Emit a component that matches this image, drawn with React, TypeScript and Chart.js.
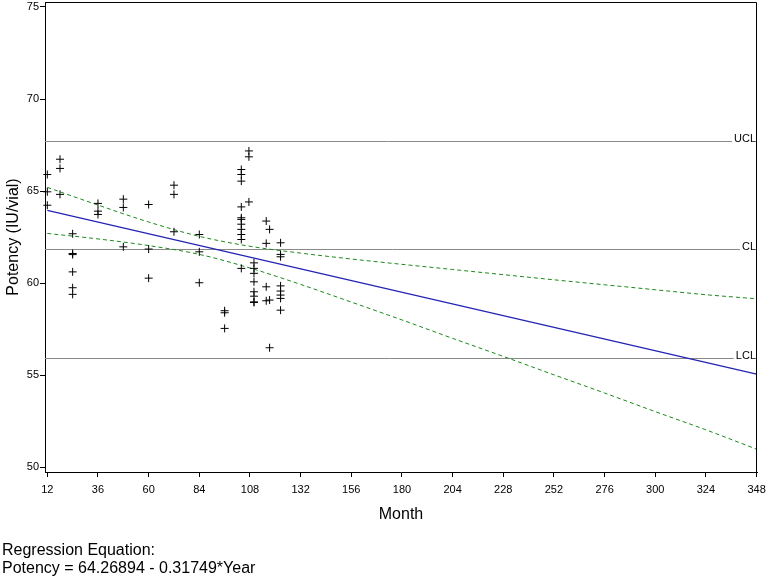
import React, { useEffect, useRef } from "react";
import { Chart, registerables } from "chart.js";

Chart.register(...registerables);

// ---- Data ----
const xTickValues = [12, 36, 60, 84, 108, 132, 156, 180, 204, 228, 252, 276, 300, 324, 348];
const yTickValues = [50, 55, 60, 65, 70, 75];

const scatterMonths = [
  12, 12, 12,
  18, 18, 18,
  24, 24, 24, 24, 24, 24,
  36, 36, 36,
  48, 48, 48,
  60, 60, 60,
  72, 72, 72,
  84, 84, 84,
  96, 96, 96,
  103.9, 103.9, 103.9, 103.9, 103.9, 103.9, 103.9, 103.9, 103.9, 103.9, 103.9,
  107.5, 107.5, 107.5,
  109.9, 109.9, 109.9, 109.9, 109.9, 109.9, 109.9, 109.9,
  115.7, 115.7, 115.7, 115.7,
  117.3, 117.3, 117.3,
  122.5, 122.5, 122.5, 122.5, 122.5, 122.5, 122.5, 122.5,
];
const scatterPotency = [
  65.9, 64.96, 64.23,
  66.73, 66.23, 64.82,
  62.68, 61.61, 61.55, 60.61, 59.75, 59.39,
  64.33, 63.91, 63.73,
  64.56, 64.11, 61.97,
  64.27, 61.85, 60.27,
  65.32, 64.82, 62.79,
  62.64, 61.7, 60.02,
  58.5, 58.39, 57.54,
  66.17, 65.9, 65.54, 64.14, 63.55, 63.46, 63.2, 62.92, 62.64, 62.37, 60.8,
  67.18, 66.86, 64.41,
  61.1, 60.8, 60.53, 60.07, 59.53, 59.29, 58.98, 58.95,
  63.37, 62.16, 59.8, 59.04,
  62.92, 59.08, 56.49,
  62.19, 61.56, 61.43, 59.85, 59.57, 59.35, 59.17, 58.53,
];

const regMonths = [12, 348];
const regPotency = [63.95, 55.06];

const bandMonths = [12, 36, 60, 84, 108, 132, 156, 180, 204, 228, 252, 276, 300, 324, 348];
const upperBand = [65.2, 64.24, 63.32, 62.54, 62.0, 61.63, 61.31, 61.02, 60.74, 60.46, 60.18, 59.91, 59.64, 59.37, 59.15];
const lowerBand = [62.7, 62.4, 62.04, 61.56, 60.82, 59.93, 58.97, 58.0, 57.0, 56.02, 55.02, 54.03, 53.02, 52.03, 50.98];

const refLabels = ["UCL", "CL", "LCL"];
const refValues = [67.73, 61.83, 55.91];

const xAxisTitle = "Month";
const yAxisTitle = "Potency (IU/vial)";
const footnoteLines = ["Regression Equation:", "Potency = 64.26894 - 0.31749*Year"];

const FONT = "'Liberation Sans', Arial, sans-serif";

const overlayPlugin = {
  id: "overlay",
  beforeDatasetsDraw(chart: any) {
    const ctx = chart.ctx;
    const area = chart.chartArea;
    const y = chart.scales.y;
    ctx.save();
    ctx.font = `11px ${FONT}`;
    ctx.textAlign = "right";
    ctx.textBaseline = "alphabetic";
    refValues.forEach((v, i) => {
      const py = Math.round(y.getPixelForValue(v)) + 0.5;
      const label = refLabels[i];
      const w = ctx.measureText(label).width;
      const textRight = area.right - 1;
      ctx.strokeStyle = "#8a8a8a";
      ctx.lineWidth = 1;
      ctx.beginPath();
      ctx.moveTo(area.left, py);
      ctx.lineTo(textRight - w - 2, py);
      ctx.stroke();
      ctx.fillStyle = "#000";
      ctx.fillText(label, textRight, py);
    });
    ctx.restore();
  },
  afterDraw(chart: any) {
    const ctx = chart.ctx;
    const area = chart.chartArea;
    ctx.save();
    // frame (top and right)
    ctx.strokeStyle = "#000";
    ctx.lineWidth = 1;
    ctx.beginPath();
    ctx.moveTo(Math.round(area.left) + 0.5, Math.round(area.top) + 0.5);
    ctx.lineTo(Math.round(area.right) - 0.5, Math.round(area.top) + 0.5);
    ctx.lineTo(Math.round(area.right) - 0.5, Math.round(area.bottom) + 0.5);
    ctx.stroke();

    ctx.fillStyle = "#000";
    ctx.font = `16px ${FONT}`;
    // x title
    ctx.textAlign = "center";
    ctx.textBaseline = "middle";
    ctx.fillText(xAxisTitle, (area.left + area.right) / 2, 515);
    // y title
    ctx.save();
    ctx.translate(14, 237);
    ctx.rotate(-Math.PI / 2);
    ctx.fillText(yAxisTitle, 0, 0);
    ctx.restore();
    // footnote
    ctx.textAlign = "left";
    ctx.textBaseline = "middle";
    footnoteLines.forEach((t, i) => {
      ctx.fillText(t, 2, 551 + i * 18);
    });
    ctx.restore();
  },
};

export default function App() {
  const canvasRef = useRef<HTMLCanvasElement | null>(null);

  useEffect(() => {
    const canvas = canvasRef.current;
    if (!canvas) return;

    const chart = new Chart(canvas, {
      type: "scatter",
      data: {
        datasets: [
          {
            type: "scatter",
            data: scatterMonths.map((m, i) => ({ x: m, y: scatterPotency[i] })),
            pointStyle: "cross",
            pointRadius: 4,
            pointBorderColor: "#000",
            pointBorderWidth: 1,
            borderColor: "#000",
            backgroundColor: "#000",
            clip: false,
            order: 0,
          } as any,
          {
            type: "line",
            data: regMonths.map((m, i) => ({ x: m, y: regPotency[i] })),
            borderColor: "#2323b4",
            borderWidth: 1.2,
            pointRadius: 0,
            fill: false,
            order: 1,
          } as any,
          {
            type: "line",
            data: bandMonths.map((m, i) => ({ x: m, y: upperBand[i] })),
            borderColor: "#1a8a1a",
            borderWidth: 1,
            borderDash: [4, 3],
            pointRadius: 0,
            fill: false,
            cubicInterpolationMode: "monotone",
            order: 2,
          } as any,
          {
            type: "line",
            data: bandMonths.map((m, i) => ({ x: m, y: lowerBand[i] })),
            borderColor: "#1a8a1a",
            borderWidth: 1,
            borderDash: [4, 3],
            pointRadius: 0,
            fill: false,
            cubicInterpolationMode: "monotone",
            order: 2,
          } as any,
        ],
      },
      options: {
        responsive: false,
        animation: false,
        devicePixelRatio: 1,
        layout: { autoPadding: false, padding: { top: 2, right: 11, bottom: 0, left: 0 } },
        plugins: {
          legend: { display: false },
          tooltip: { enabled: false },
          title: { display: false },
        },
        scales: {
          x: {
            type: "linear",
            min: 10.9,
            max: 348.2,
            afterBuildTicks: (scale: any) => {
              scale.ticks = xTickValues.map((v) => ({ value: v }));
            },
            afterFit: (scale: any) => {
              scale.height = 104;
              scale.paddingLeft = 0;
              scale.paddingRight = 0;
            },
            ticks: {
              autoSkip: false,
              maxRotation: 0,
              minRotation: 0,
              padding: 6,
              color: "#000",
              font: { family: FONT, size: 11 },
            },
            grid: {
              drawOnChartArea: false,
              drawTicks: true,
              tickLength: 5,
              color: "#000",
            },
            border: { display: true, color: "#000", width: 1 },
          },
          y: {
            type: "linear",
            min: 49.74,
            max: 75.27,
            afterBuildTicks: (scale: any) => {
              scale.ticks = yTickValues.map((v) => ({ value: v }));
            },
            afterFit: (scale: any) => {
              scale.width = 45;
              scale.paddingTop = 0;
              scale.paddingBottom = 0;
            },
            ticks: {
              autoSkip: false,
              padding: 1,
              color: "#000",
              font: { family: FONT, size: 11 },
            },
            grid: {
              drawOnChartArea: false,
              drawTicks: true,
              tickLength: 5,
              color: "#000",
            },
            border: { display: true, color: "#000", width: 1 },
          },
        },
      },
      plugins: [overlayPlugin],
    });

    return () => {
      chart.destroy();
    };
  }, []);

  return (
    <div
      style={{
        position: "fixed",
        left: 0,
        top: 0,
        width: 768,
        height: 576,
        background: "#fff",
      }}
    >
      <canvas ref={canvasRef} width={768} height={576} style={{ display: "block", width: 768, height: 576 }} />
    </div>
  );
}
